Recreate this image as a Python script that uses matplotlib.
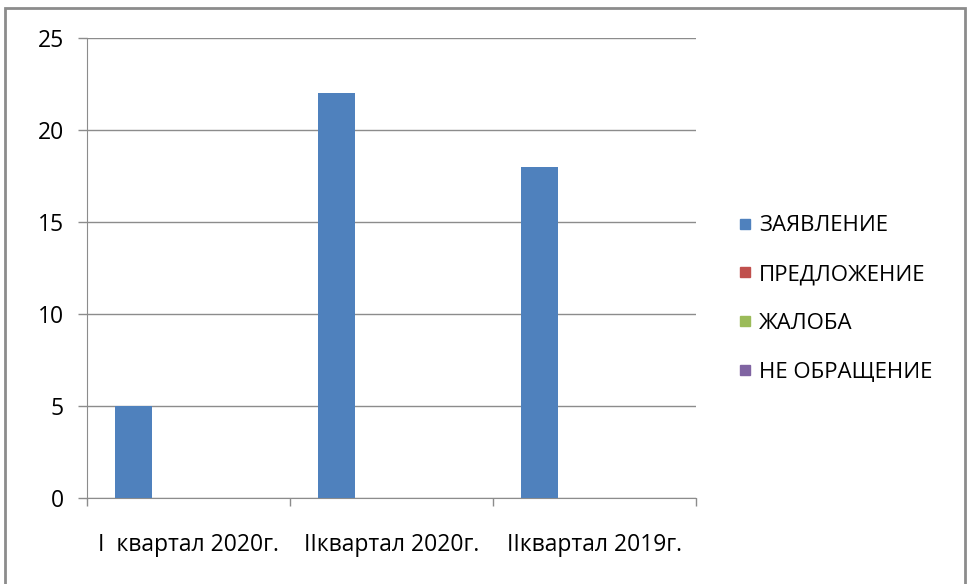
import matplotlib.pyplot as plt
from matplotlib.patches import Rectangle
from matplotlib.lines import Line2D

plt.rcParams['font.family'] = ['Open Sans', 'DejaVu Sans']

categories = ['I  квартал 2020г.', 'IIквартал 2020г.', 'IIквартал 2019г.']
series_names = ['ЗАЯВЛЕНИЕ', 'ПРЕДЛОЖЕНИЕ', 'ЖАЛОБА', 'НЕ ОБРАЩЕНИЕ']
series_values = [
    [5, 22, 18],
    [0, 0, 0],
    [0, 0, 0],
    [0, 0, 0],
]
colors = ['#4F81BD', '#C0504D', '#9BBB59', '#8064A2']

W, H = 969, 584
fig = plt.figure(figsize=(W / 100, H / 100), dpi=100)
fig.patch.set_facecolor('white')

# рамка диаграммы
fig.patches.append(Rectangle((5 / W, -0.02), 960 / W, (H - 8) / H + 0.02,
                             transform=fig.transFigure, fill=False,
                             edgecolor='#8c8c8c', linewidth=2))

ax = fig.add_axes([87 / W, (H - 498) / H, (696 - 87) / W, (498 - 38) / H])

w = 1 / 5.5
x = range(len(categories))
for i, (name, vals) in enumerate(zip(series_names, series_values)):
    ax.bar([k + (i - 1.5) * w for k in x], vals, width=w, color=colors[i],
           label=name, zorder=3)

ax.set_xlim(-0.5, len(categories) - 0.5)
ax.set_ylim(0, 25)
ax.set_yticks(range(0, 26, 5))
ax.yaxis.grid(True, color='#8c8c8c', linewidth=1)
ax.tick_params(axis='y', length=6.5, width=1, color='#8c8c8c', pad=10,
               labelsize=16.5)

ax.set_xticks([-0.5, 0.5, 1.5, 2.5])
ax.set_xticklabels([])
ax.tick_params(axis='x', which='major', length=6, width=1, color='#8c8c8c')
ax.set_xticks(list(x), minor=True)
ax.set_xticklabels(categories, minor=True)
ax.tick_params(axis='x', which='minor', length=0, pad=25, labelsize=16.5)

for s in ['top', 'right']:
    ax.spines[s].set_visible(False)
for s in ['left', 'bottom']:
    ax.spines[s].set_color('#8c8c8c')

handles = [Line2D([], [], marker='s', linestyle='none', markersize=7.5,
                  markerfacecolor=c, markeredgecolor=c) for c in colors]
fig.legend(handles, series_names, loc='center left',
           bbox_to_anchor=(718 / W, (H - 299) / H), frameon=False,
           fontsize=16, handlelength=0.6, handletextpad=0.35,
           labelspacing=1.25)

fig.savefig('out.png', dpi=100)
